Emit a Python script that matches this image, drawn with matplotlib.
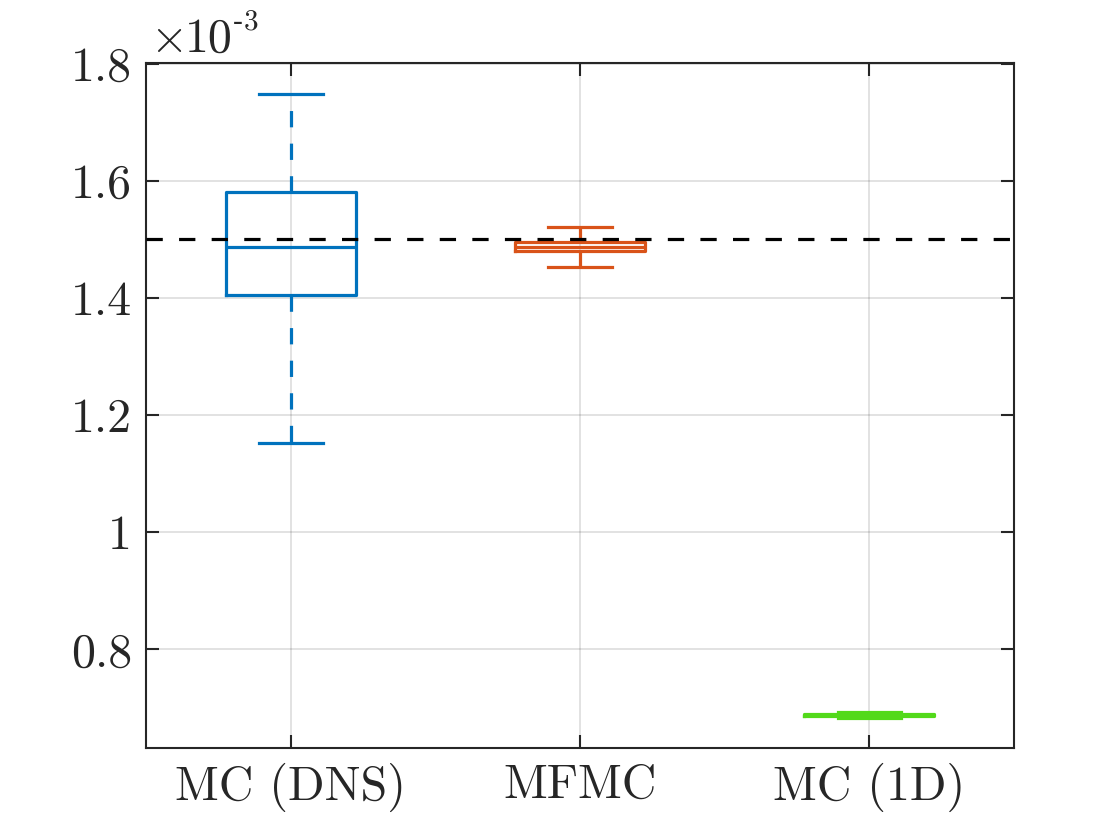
import matplotlib
matplotlib.use("Agg")
import matplotlib.pyplot as plt
from matplotlib.ticker import FuncFormatter

plt.rcParams['font.family'] = 'cmr10'
plt.rcParams['mathtext.fontset'] = 'cm'
plt.rcParams['axes.formatter.use_mathtext'] = True

# data (values in raw units)
labels = ['MC (DNS)', 'MFMC', 'MC (1D)']
whislo = [1.1530e-3, 1.4537e-3, 0.6835e-3]
q1 = [1.4053e-3, 1.4797e-3, 0.6861e-3]
med = [1.4879e-3, 1.4880e-3, 0.6878e-3]
q3 = [1.5813e-3, 1.4959e-3, 0.6895e-3]
whishi = [1.7487e-3, 1.5210e-3, 0.6921e-3]
ref_value = 1.5e-3
colors = ['#0072BD', '#D95319', '#52D91A']
yticks = [0.8e-3, 1.0e-3, 1.2e-3, 1.4e-3, 1.6e-3, 1.8e-3]

txt = '#262626'
fs = 34.5
lw = 2.3
dash = (0, (5.1, 5.1))

fig = plt.figure(figsize=(11.2, 8.4), dpi=100)
ax = fig.add_axes([0.1304, 0.1095, 0.9054 - 0.1304, 0.9254 - 0.1095])

for i in range(3):
    st = [dict(label=labels[i], whislo=whislo[i], q1=q1[i], med=med[i],
               q3=q3[i], whishi=whishi[i], fliers=[])]
    c = colors[i]
    ax.bxp(st, positions=[i + 1], widths=0.45, capwidths=0.22,
           showfliers=False, manage_ticks=False,
           boxprops=dict(color=c, lw=lw, solid_joinstyle='round'),
           medianprops=dict(color=c, lw=lw),
           whiskerprops=dict(color=c, lw=lw, linestyle=dash),
           capprops=dict(color=c, lw=lw), zorder=3)

ax.axhline(ref_value, color='black', lw=lw, linestyle=dash, zorder=4)

ax.set_xlim(0.5, 3.5)
ax.set_ylim(0.6314e-3, 1.802e-3)
ax.set_xticks([1, 2, 3])
ax.set_xticklabels(labels)
ax.set_yticks(yticks)
ax.yaxis.set_major_formatter(FuncFormatter(lambda v, p: '%g' % round(v * 1e3, 3)))

ax.grid(True, color='#262626', alpha=0.15, lw=1.3)
ax.set_axisbelow(True)
for s in ax.spines.values():
    s.set_color(txt)
    s.set_linewidth(1.5)
ax.tick_params(direction='in', length=9.5, width=1.5, colors=txt,
               labelsize=fs, top=True, right=True)
ax.tick_params(axis='x', pad=11)
ax.tick_params(axis='y', pad=10)

# exponent label above the axes
fig.text(150 / 1120, 1 - 52 / 840, r'$\times$', fontsize=fs, color=txt,
         ha='left', va='baseline')
fig.text(185 / 1120, 1 - 52 / 840, '10', fontsize=fs, color=txt,
         ha='left', va='baseline')
fig.text(233 / 1120, 1 - 30 / 840, '-', fontsize=21, color=txt,
         family='Liberation Serif', ha='left', va='baseline', zorder=5)
fig.text(244 / 1120, 1 - 29 / 840, '3', fontsize=21, color=txt,
         ha='left', va='baseline')

fig.savefig('out.png', dpi=100)
